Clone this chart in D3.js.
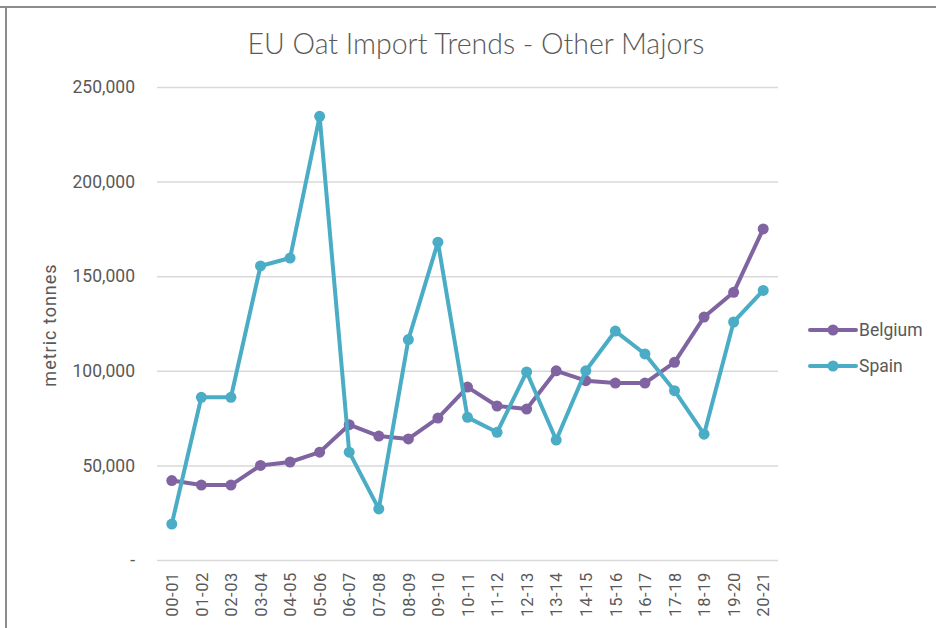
<!DOCTYPE html>
<html lang="en">
<head>
    <meta charset="UTF-8">
    <title>EU Oat Import Trends - Other Majors</title>
    <script src="https://d3js.org/d3.v7.min.js"></script>
    <style>
        body { margin: 0; background: #fff; }
        .tick text { font-family: Roboto, "Open Sans", sans-serif; fill: #595959; }
    </style>
</head>
<body>
<div id="chart"></div>
<script>
    const years = ["00-01", "01-02", "02-03", "03-04", "04-05", "05-06", "06-07", "07-08", "08-09", "09-10",
        "10-11", "11-12", "12-13", "13-14", "14-15", "15-16", "16-17", "17-18", "18-19", "19-20", "20-21"];
    const belgium = [42000, 39600, 39600, 50000, 51800, 57000, 71500, 65500, 64000, 75000,
        91400, 81400, 79800, 100000, 94800, 93500, 93500, 104500, 128400, 141500, 175000];
    const spain = [19000, 86000, 86000, 155400, 159600, 234500, 57000, 27000, 116500, 168000,
        75400, 67500, 99400, 63400, 100000, 121000, 108900, 89500, 66500, 125800, 142500];
    const yTicks = [0, 50000, 100000, 150000, 200000, 250000];

    const series = [
        { name: "Belgium", values: belgium, color: "#8064a2" },
        { name: "Spain", values: spain, color: "#4bacc6" }
    ];

    const width = 936, height = 628;
    const svg = d3.select("#chart").append("svg")
        .attr("width", width)
        .attr("height", height);

    // frame (top and left edges only show in the picture)
    svg.append("line").attr("x1", 0).attr("x2", width).attr("y1", 7).attr("y2", 7)
        .attr("stroke", "#8c8c8c").attr("stroke-width", 2);
    svg.append("line").attr("x1", 6).attr("x2", 6).attr("y1", 6).attr("y2", height)
        .attr("stroke", "#8c8c8c").attr("stroke-width", 2);

    const x = d3.scalePoint().domain(years).range([157, 778]).padding(0.5);
    const y = d3.scaleLinear().domain([0, 250000]).range([560, 87]);

    // gridlines + y labels
    const yAxis = svg.append("g")
        .attr("transform", "translate(157,0)")
        .call(d3.axisLeft(y).tickValues(yTicks).tickSize(-621).tickPadding(22)
            .tickFormat(d => d === 0 ? "-" : d3.format(",")(d)));
    yAxis.select(".domain").remove();
    yAxis.selectAll(".tick line").attr("stroke", "#d9d9d9").attr("stroke-width", 1.5);
    yAxis.selectAll(".tick text").attr("font-size", 17.5);

    // x labels
    const xAxis = svg.append("g")
        .attr("transform", "translate(0,560)")
        .call(d3.axisBottom(x).tickSize(0).tickPadding(0));
    xAxis.select(".domain").remove();
    xAxis.selectAll(".tick text")
        .attr("font-size", 16.5)
        .attr("letter-spacing", 0.6)
        .attr("transform", "rotate(-90)")
        .attr("text-anchor", "end")
        .attr("x", -12)
        .attr("y", 0)
        .attr("dy", "0.35em");

    const line = d3.line()
        .x((d, i) => x(years[i]))
        .y(d => y(d));

    series.forEach(s => {
        svg.append("path")
            .datum(s.values)
            .attr("fill", "none")
            .attr("stroke", s.color)
            .attr("stroke-width", 4)
            .attr("stroke-linejoin", "round")
            .attr("d", line);
        svg.append("g").selectAll("circle")
            .data(s.values)
            .join("circle")
            .attr("cx", (d, i) => x(years[i]))
            .attr("cy", d => y(d))
            .attr("r", 5.5)
            .attr("fill", s.color);
    });

    // title
    svg.append("text")
        .attr("x", 476)
        .attr("y", 54)
        .attr("text-anchor", "middle")
        .attr("font-family", "Lato, 'Open Sans', sans-serif")
        .attr("font-weight", 300)
        .attr("font-size", 28.5)
        .attr("fill", "#595959")
        .text("EU Oat Import Trends - Other Majors");

    // y axis title
    svg.append("text")
        .attr("transform", "translate(56,325) rotate(-90)")
        .attr("text-anchor", "middle")
        .attr("font-family", "Roboto, sans-serif")
        .attr("font-size", 18)
        .attr("letter-spacing", 1)
        .attr("fill", "#595959")
        .text("metric tonnes");

    // legend
    const legend = svg.append("g").attr("transform", "translate(810,0)");
    series.forEach((s, i) => {
        const ly = 330 + i * 36;
        legend.append("line").attr("x1", 0).attr("x2", 46).attr("y1", ly).attr("y2", ly)
            .attr("stroke", s.color).attr("stroke-width", 4).attr("stroke-linecap", "round");
        legend.append("circle").attr("cx", 23).attr("cy", ly).attr("r", 5.5).attr("fill", s.color);
        legend.append("text").attr("x", 49).attr("y", ly).attr("dy", "0.35em")
            .attr("font-family", "Roboto, sans-serif")
            .attr("font-size", 17.5)
            .attr("fill", "#595959")
            .text(s.name);
    });
</script>
</body>
</html>
